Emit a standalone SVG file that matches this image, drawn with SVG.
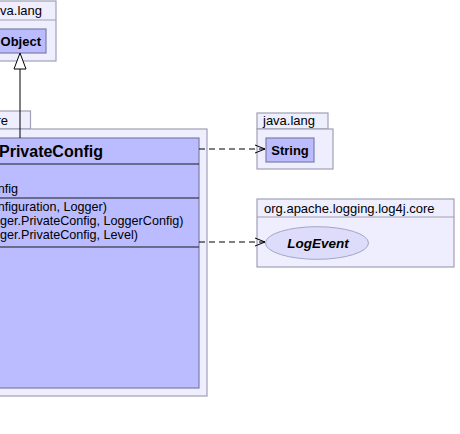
<svg xmlns="http://www.w3.org/2000/svg" width="460" height="434" viewBox="0 0 460 434">
<style>
.pkg{fill:#EEEEFF;stroke:#A0A0B4;stroke-width:1.2}
.cls{fill:#BBBBFF;stroke:#7E7EA6;stroke-width:1.2}
.sep{stroke:#1A1A1A;stroke-width:1.2}
.ptxt{font-family:"Liberation Sans",Arial,sans-serif;font-size:13px;fill:#000}
.ctxt{font-family:"Liberation Sans",Arial,sans-serif;font-size:13px;font-weight:bold;fill:#000}
.mtxt{font-family:"Liberation Sans",Arial,sans-serif;font-size:12.6px;fill:#000}
.dep{fill:none;stroke:#000;stroke-width:1;stroke-dasharray:6,4}
.head{fill:none;stroke:#000;stroke-width:1}
</style>
<g id="pkg-java-lang-1">
<rect class="pkg" x="-5" y="1" width="61" height="60"/>
<line class="pkg" x1="-5" y1="20" x2="56" y2="20"/>
<text class="ptxt" x="42" y="15" text-anchor="end">va.lang</text>
</g>
<g id="Object">
<rect class="cls" x="-5" y="29" width="51" height="24"/>
<text class="ctxt" x="41" y="46" text-anchor="end">Object</text>
</g>
<g id="pkg-core">
<rect class="pkg" x="-5" y="111" width="35.5" height="18"/>
<rect class="pkg" x="-5" y="129" width="212" height="267"/>
<text class="ptxt" x="8" y="125" text-anchor="end">re</text>
</g>
<g id="PrivateConfig">
<rect class="cls" x="-5" y="138" width="204" height="250"/>
<text class="ctxt" x="103" y="157" text-anchor="end" style="font-size:16px">PrivateConfig</text>
<line class="sep" x1="-5" y1="164" x2="199" y2="164"/>
<text class="mtxt" x="18" y="193" text-anchor="end">nfig</text>
<line class="sep" x1="-5" y1="198" x2="199" y2="198"/>
<text class="mtxt" x="107" y="211" text-anchor="end">nfiguration, Logger)</text>
<text class="mtxt" x="0" y="225">ger.PrivateConfig, LoggerConfig)</text>
<text class="mtxt" x="0" y="239">ger.PrivateConfig, Level)</text>
<line class="sep" x1="-5" y1="247" x2="199" y2="247"/>
</g>
<g id="pkg-java-lang-2">
<rect class="pkg" x="257" y="113" width="71" height="16"/>
<rect class="pkg" x="257" y="129" width="76" height="40"/>
<text class="ptxt" x="263" y="125">java.lang</text>
</g>
<g id="String">
<rect class="cls" x="266" y="138" width="48" height="24"/>
<text class="ctxt" x="290" y="155" text-anchor="middle">String</text>
</g>
<g id="pkg-log4j-core">
<rect class="pkg" x="257" y="199" width="197" height="68"/>
<line class="pkg" x1="257" y1="217" x2="454" y2="217"/>
<text class="ptxt" x="264" y="213">org.apache.logging.log4j.core</text>
</g>
<g id="LogEvent">
<ellipse cx="317" cy="243" rx="51.5" ry="16.3" fill="#DDDDFB" stroke="#A4A4C6" stroke-width="1"/>
<text class="ctxt" x="318" y="248" text-anchor="middle" style="font-style:italic;font-size:13.5px">LogEvent</text>
</g>
<g id="connectors">
<line x1="20" y1="69" x2="20" y2="138" stroke="#000" stroke-width="1"/>
<polygon points="20,53 14,69 26,69" fill="#fff" stroke="#000" stroke-width="1"/>
<line class="dep" x1="199" y1="149" x2="265" y2="149"/>
<polyline class="head" points="255,145 265,149 255,153"/>
<line class="dep" x1="199" y1="242" x2="265" y2="242"/>
<polyline class="head" points="255,238 265,242 255,246"/>
</g>
</svg>
